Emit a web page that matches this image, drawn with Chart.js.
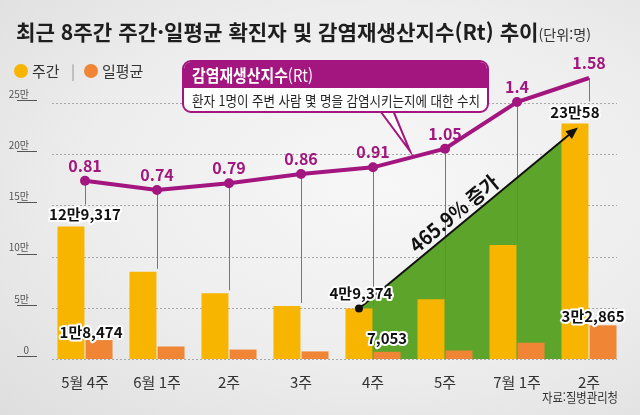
<!DOCTYPE html>
<html lang="ko">
<head>
<meta charset="utf-8">
<script src="https://cdn.jsdelivr.net/npm/chart.js@4.4.1/dist/chart.umd.min.js"></script>
<style>
html, body { margin: 0; padding: 0; }
body {
    width: 640px; height: 415px; overflow: hidden; position: relative;
    background: radial-gradient(ellipse at 60% 45%, #f7f7f7 0%, #ededed 55%, #dedede 100%);
    font-family: "Noto Sans CJK KR", "Noto Sans", sans-serif;
}
#chart { position: absolute; left: 0; top: 0; }
.fit { position: absolute; white-space: nowrap; transform-origin: 0 50%; }
#title { left: 16px; top: 17px; font-size: 21px; line-height: 28px; font-weight: 700; color: #1e1e1e; }
#title small { font-size: 14px; font-weight: 400; color: #333; }
.dot { position: absolute; width: 14px; height: 14px; border-radius: 50%; top: 64px; }
.leg { position: absolute; top: 60px; font-size: 15px; line-height: 22px; color: #333; }
#callout {
    position: absolute; left: 182px; top: 60px; width: 303px; height: 49px;
    border: 2px solid #a3157f; border-radius: 9px; background: #fff; overflow: hidden;
}
#callout .head { position: absolute; left: 0; top: 0; right: 0; height: 26px; background: #a3157f; }
#headText { left: 8px; top: 13px; font-size: 17px; line-height: 26px; margin-top: -13px; color: #fff; }
#bodyText { left: 8px; top: 38px; font-size: 14px; line-height: 20px; margin-top: -10px; color: #222; }
#source { left: 542px; top: 388px; font-size: 13px; line-height: 18px; color: #333; }
</style>
</head>
<body>
<canvas id="chart" width="640" height="415"></canvas>
<div id="title" class="fit">최근 8주간 주간·일평균 확진자 및 감염재생산지수(Rt) 추이<small>(단위:명)</small></div>
<span class="dot" style="left:14px; background:#f8b500"></span>
<span class="leg" style="left:32px">주간</span>
<span class="leg" style="left:71px; color:#999">|</span>
<span class="dot" style="left:84px; background:#ef8535"></span>
<span class="leg" style="left:102px">일평균</span>
<div id="callout">
    <div class="head"></div>
    <div id="headText" class="fit"><b>감염재생산지수</b>(Rt)</div>
    <div id="bodyText" class="fit">환자 1명이 주변 사람 몇 명을 감염시키는지에 대한 수치</div>
</div>
<div id="source" class="fit">자료:질병관리청</div>
<script>
const weeks = ['5월 4주', '6월 1주', '2주', '3주', '4주', '5주', '7월 1주', '2주'];
const weeklyCases = [129317, 85200, 64100, 51800, 49374, 58300, 111300, 230058];
const dailyAvg = [18474, 12200, 9200, 7400, 7053, 8300, 15900, 32865];
const rtValues = [0.81, 0.74, 0.79, 0.86, 0.91, 1.05, 1.4, 1.58];
const yTicks = [0, 50000, 100000, 150000, 200000, 250000];
const labeledWeeks = [0, 4, 7];
const growthText = '465.9% 증가';

const YELLOW = '#f8b500';
const ORANGE = '#ef8535';
const PURPLE = '#a3157f';
const GREEN = '#5ca52a';
const FONT = '"Noto Sans CJK KR", "Noto Sans", sans-serif';

// squeeze the html text to the width it takes in the original
function fitWidth(id, w) {
    const el = document.getElementById(id);
    const nat = el.getBoundingClientRect().width;
    el.style.transform = 'scaleX(' + (w / nat) + ')';
}
fitWidth('title', 575);
fitWidth('headText', 121);
fitWidth('bodyText', 288);
fitWidth('source', 76);

function korNum(v) {
    const man = Math.floor(v / 10000), rest = v % 10000;
    if (!man) return rest.toLocaleString('en-US');
    return man + '만' + (rest ? rest.toLocaleString('en-US') : '');
}

// label offsets from the bar top centre
const weekLabelPos = { 0: [14, -12], 4: [2, -15], 7: [0, -11] };
const dayLabelPos = { 0: [-8, -8], 4: [0, -13], 7: [-10, -9] };

function outlined(ctx, text, x, y) {
    ctx.lineWidth = 4;
    ctx.strokeStyle = '#fff';
    ctx.lineJoin = 'round';
    ctx.strokeText(text, x, y);
    ctx.fillStyle = '#111';
    ctx.fillText(text, x, y);
}

const overlay = {
    id: 'overlay',
    beforeDatasetsDraw(chart) {
        const { ctx, chartArea, scales } = chart;
        const wk = chart.getDatasetMeta(0).data;
        const rt = chart.getDatasetMeta(2).data;
        ctx.save();

        // dotted grid + short underline under each tick label
        yTicks.forEach(v => {
            const y = Math.round(scales.y.getPixelForValue(v)) + 0.5;
            ctx.strokeStyle = '#a8a8a8';
            ctx.lineWidth = 1;
            ctx.setLineDash([2, 2]);
            ctx.beginPath();
            ctx.moveTo(chartArea.left + 3, y);
            ctx.lineTo(chartArea.right - 8, y);
            ctx.stroke();
            ctx.setLineDash([]);
            ctx.strokeStyle = '#555';
            ctx.beginPath();
            ctx.moveTo(17, y - 3);
            ctx.lineTo(37, y - 3);
            ctx.stroke();
        });

        const a = wk[4], b = wk[7];
        ctx.fillStyle = GREEN;
        ctx.beginPath();
        ctx.moveTo(a.x, a.y);
        ctx.lineTo(b.x + 3, b.y + 4);
        ctx.lineTo(b.x + 3, chartArea.bottom);
        ctx.lineTo(a.x, chartArea.bottom);
        ctx.closePath();
        ctx.fill();

        ctx.strokeStyle = '#777';
        ctx.lineWidth = 1;
        rt.forEach((p, i) => {
            const stop = (i === 0 || i === 7) ? wk[i].y - 22 : wk[i].y - 3;
            const x = Math.round(p.x) + 0.5;
            ctx.beginPath();
            ctx.moveTo(x, p.y);
            ctx.lineTo(x, stop);
            ctx.stroke();
        });

        // callout tail
        ctx.fillStyle = '#fff';
        ctx.strokeStyle = PURPLE;
        ctx.lineWidth = 2;
        ctx.beginPath();
        ctx.moveTo(378, 108);
        ctx.lineTo(410, 151);
        ctx.lineTo(392, 108);
        ctx.fill();
        ctx.stroke();
        ctx.restore();
    },
    afterDatasetsDraw(chart) {
        const { ctx } = chart;
        const wk = chart.getDatasetMeta(0).data;
        const dy = chart.getDatasetMeta(1).data;
        const rt = chart.getDatasetMeta(2).data;
        ctx.save();

        // growth arrow
        const a = wk[4], b = wk[7];
        const x0 = a.x, y0 = a.y, x1 = b.x + 3, y1 = b.y + 4;
        const ang = Math.atan2(y1 - y0, x1 - x0);
        ctx.strokeStyle = '#111';
        ctx.fillStyle = '#111';
        ctx.lineWidth = 2;
        ctx.beginPath();
        ctx.moveTo(x0, y0);
        ctx.lineTo(x1 - 8 * Math.cos(ang), y1 - 8 * Math.sin(ang));
        ctx.stroke();
        ctx.save();
        ctx.translate(x1, y1);
        ctx.rotate(ang);
        ctx.beginPath();
        ctx.moveTo(0, 0);
        ctx.lineTo(-12, -5);
        ctx.lineTo(-12, 5);
        ctx.closePath();
        ctx.fill();
        ctx.restore();
        ctx.beginPath();
        ctx.arc(x0, y0, 4, 0, Math.PI * 2);
        ctx.fill();

        const t = 0.47;
        ctx.save();
        ctx.translate(x0 + (x1 - x0) * t, y0 + (y1 - y0) * t);
        ctx.rotate(ang);
        ctx.font = 'bold 20px ' + FONT;
        ctx.textAlign = 'center';
        ctx.textBaseline = 'alphabetic';
        ctx.fillText(growthText, 0, -5, 108);
        ctx.restore();

        // Rt labels
        ctx.font = 'bold 16px ' + FONT;
        ctx.textAlign = 'center';
        ctx.textBaseline = 'middle';
        ctx.fillStyle = PURPLE;
        rt.forEach((p, i) => ctx.fillText(String(rtValues[i]), p.x, p.y - 15));

        // value labels
        ctx.font = 'bold 15px ' + FONT;
        labeledWeeks.forEach(i => {
            const [ox, oy] = weekLabelPos[i];
            outlined(ctx, korNum(weeklyCases[i]), wk[i].x + ox, wk[i].y + oy);
            const [dx, dyy] = dayLabelPos[i];
            outlined(ctx, korNum(dailyAvg[i]), dy[i].x + dx, dy[i].y + dyy);
        });
        ctx.restore();
    }
};

new Chart(document.getElementById('chart'), {
    data: {
        labels: weeks,
        datasets: [{
            type: 'bar',
            label: '주간',
            data: weeklyCases,
            backgroundColor: YELLOW,
            categoryPercentage: 0.78,
            barPercentage: 0.96,
            order: 2
        }, {
            type: 'bar',
            label: '일평균',
            data: dailyAvg,
            backgroundColor: ORANGE,
            categoryPercentage: 0.78,
            barPercentage: 0.96,
            order: 2
        }, {
            type: 'line',
            label: '감염재생산지수(Rt)',
            data: rtValues,
            yAxisID: 'yRt',
            borderColor: PURPLE,
            borderWidth: 4,
            pointRadius: 5,
            pointBackgroundColor: PURPLE,
            pointBorderWidth: 0,
            tension: 0,
            clip: false,
            order: 1
        }]
    },
    options: {
        responsive: false,
        animation: false,
        layout: { padding: { top: 103, right: 15, left: 0, bottom: 0 } },
        plugins: {
            legend: { display: false },
            tooltip: { enabled: false }
        },
        scales: {
            x: {
                grid: { display: false },
                border: { display: false },
                ticks: {
                    color: '#333',
                    font: { size: 15, family: FONT },
                    padding: 6,
                    maxRotation: 0,
                    autoSkip: false
                },
                afterFit(s) { s.height = 56; }
            },
            y: {
                min: 0,
                max: 250000,
                afterBuildTicks(s) { s.ticks = yTicks.map(v => ({ value: v })); },
                ticks: {
                    callback: v => v === 0 ? '0' : (v / 10000) + '만',
                    color: '#555',
                    font: { size: 10, family: FONT },
                    padding: 12,
                    labelOffset: -9
                },
                grid: { display: false },
                border: { display: false },
                afterFit(s) { s.width = 49; }
            },
            yRt: { type: 'linear', axis: 'y', display: false, min: -0.5275, max: 1.3925 }
        }
    },
    plugins: [overlay]
});
</script>
</body>
</html>
